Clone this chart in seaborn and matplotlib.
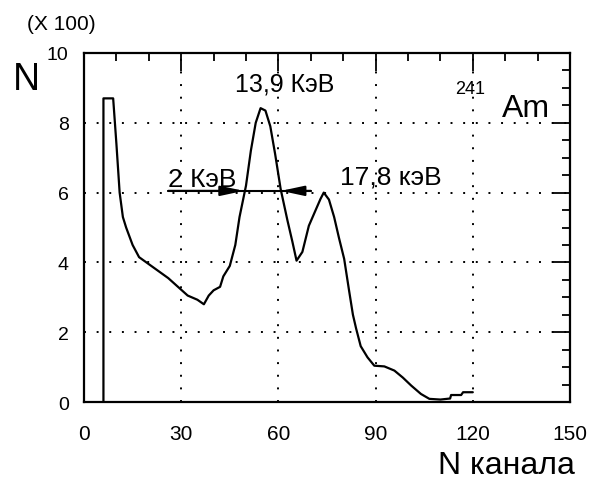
import matplotlib
matplotlib.use("Agg")
import matplotlib.pyplot as plt
import seaborn as sns
import pandas as pd
from matplotlib.ticker import MultipleLocator

# ---- data (counts in units of 100) ----
channel = [6, 6, 9, 10, 11, 12, 13, 15, 17, 20, 23, 26, 29, 32, 35, 37,
           38.5, 40, 42, 43, 45, 46.7, 48, 50, 51.5, 53, 54.5, 56, 57.5,
           59, 60.7, 62.8, 64.3, 65.6, 67.4, 69.4, 71.5, 73, 74, 75.6,
           77.2, 78.7, 80.3, 81.8, 83, 84, 85.4, 87.5, 89.6, 92.7, 95.8,
           98.4, 101, 104, 106.6, 110, 113, 113.3, 116.4, 117, 119.5, 120]
counts = [0, 8.7, 8.7, 7.4, 6.0, 5.3, 5.0, 4.5, 4.15, 3.95, 3.75, 3.55,
          3.3, 3.05, 2.93, 2.8, 3.05, 3.2, 3.3, 3.6, 3.9, 4.5, 5.3, 6.2,
          7.2, 8.0, 8.42, 8.35, 7.9, 7.1, 6.1, 5.2, 4.6, 4.05, 4.3, 5.05,
          5.5, 5.82, 6.0, 5.8, 5.3, 4.7, 4.1, 3.2, 2.5, 2.1, 1.6, 1.28,
          1.04, 1.02, 0.9, 0.7, 0.47, 0.23, 0.09, 0.07, 0.1, 0.2, 0.2,
          0.28, 0.28, 0.28]
x_ticks = [0, 30, 60, 90, 120, 150]
y_ticks = [0, 2, 4, 6, 8, 10]
grid_x = [30, 60, 90, 120]
grid_y = [2, 4, 6, 8]
fwhm_level = 6.05
fwhm_left, fwhm_right = 49.3, 60.8
fwhm_line = [26, 70]

df = pd.DataFrame({"channel": channel, "counts": counts})

sns.set_theme(style="white")
FONT = ["Liberation Sans", "DejaVu Sans"]
plt.rcParams["font.family"] = FONT
plt.rcParams["text.color"] = "black"
plt.rcParams["axes.labelcolor"] = "black"
plt.rcParams["xtick.color"] = "black"
plt.rcParams["ytick.color"] = "black"

fig = plt.figure(figsize=(5.91, 4.85), dpi=100)
ax = fig.add_axes([84 / 591, 1 - 403 / 485, (570 - 84) / 591, (403 - 54) / 485])

# dotted grid at major ticks
for gx in grid_x:
    ax.axvline(gx, color="black", lw=1.4, linestyle=(0, (1, 5.5)), zorder=1)
for gy in grid_y:
    ax.axhline(gy, color="black", lw=1.4, linestyle=(0, (1, 5.5)), zorder=1)

sns.lineplot(data=df, x="channel", y="counts", sort=False, estimator=None,
             color="black", lw=1.6, ax=ax, zorder=3)

ax.set_xlim(0, 150)
ax.set_ylim(0, 10)
ax.set_xticks(x_ticks)
ax.set_yticks(y_ticks)
ax.xaxis.set_minor_locator(MultipleLocator(10))
ax.yaxis.set_minor_locator(MultipleLocator(0.5))
ax.tick_params(which="both", direction="in", top=True, right=True,
               color="black", labelcolor="black", width=1.3)
ax.tick_params(which="major", length=13)
ax.tick_params(which="minor", length=6)
ax.tick_params(axis="x", labelsize=15, pad=16)
ax.tick_params(axis="y", labelsize=14, pad=11)
for s in ax.spines.values():
    s.set_color("black")
    s.set_linewidth(1.6)

ax.set_xlabel("N канала", fontsize=23, ha="center", va="center")
ax.xaxis.set_label_coords(0.870, -0.18)
ax.set_ylabel("N", fontsize=27, rotation=0, ha="center", va="center")
ax.yaxis.set_label_coords(-0.118, 0.925)

fig.text(27 / 591, 1 - 25 / 485, "(X 100)", fontsize=15, ha="left",
         va="center")

# FWHM arrows
ax.plot(fwhm_line, [fwhm_level, fwhm_level], color="black", lw=1.5, zorder=4)
ax.annotate("", xy=(fwhm_left, fwhm_level), xytext=(fwhm_line[0], fwhm_level),
            arrowprops=dict(arrowstyle="-|>,head_length=1.4,head_width=0.3",
                            color="black", lw=1.5, mutation_scale=10,
                            shrinkA=0, shrinkB=0), zorder=5)
ax.annotate("", xy=(fwhm_right, fwhm_level), xytext=(fwhm_line[1], fwhm_level),
            arrowprops=dict(arrowstyle="-|>,head_length=1.4,head_width=0.3",
                            color="black", lw=1.5, mutation_scale=10,
                            shrinkA=0, shrinkB=0), zorder=5)

ax.text(25.9, 6.18, "2 КэВ", fontsize=19, ha="left", va="baseline")
ax.text(46.6, 8.92, "13,9 КэВ", fontsize=18, ha="left", va="baseline")
ax.text(79.0, 6.27, "17,8 кэВ", fontsize=19, ha="left", va="baseline")
ax.text(114.5, 8.84, "241", fontsize=13, ha="left", va="baseline")
ax.text(129.0, 8.2, "Am", fontsize=23, ha="left", va="baseline")

fig.savefig("out.png", dpi=100, facecolor="white")
